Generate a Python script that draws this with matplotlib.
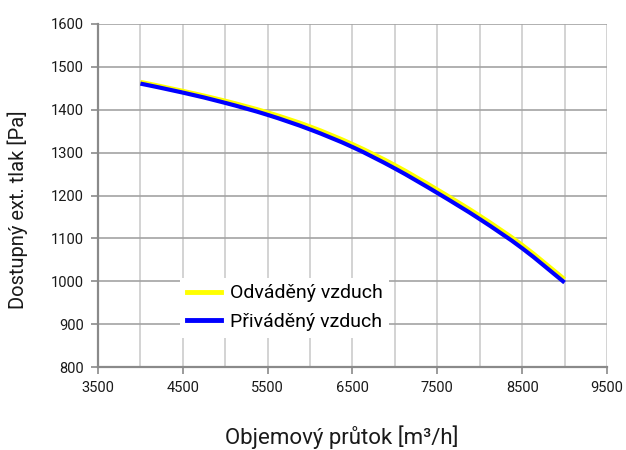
import matplotlib
matplotlib.use("Agg")
import matplotlib.pyplot as plt
from matplotlib.ticker import FixedLocator
from matplotlib.path import Path
from matplotlib.patches import PathPatch
from matplotlib.lines import Line2D

plt.rcParams['font.family'] = ['Roboto', 'DejaVu Sans']

flow = [4000, 4500, 5000, 5500, 6000, 6500, 7000, 7500, 8000, 8500, 9000]
odvadeny = [1465, 1444, 1421, 1394, 1361, 1320, 1271, 1214, 1153, 1085, 1005]
privadeny = [1461, 1440, 1416, 1388, 1354, 1313, 1263, 1206, 1145, 1077, 997]

x_ticks = [3500, 4500, 5500, 6500, 7500, 8500, 9500]
x_minor = [4000, 5000, 6000, 7000, 8000, 9000]
y_ticks = [800, 900, 1000, 1100, 1200, 1300, 1400, 1500, 1600]

series_labels = ['Odváděný vzduch', 'Přiváděný vzduch']
series_colors = ['#ffff00', '#0000ff']


def smooth_path(xs, ys):
    """Catmull-Rom style smooth curve through the points (like a spreadsheet 'smoothed line')."""
    n = len(xs)
    verts = [(xs[0], ys[0])]
    codes = [Path.MOVETO]
    for i in range(n - 1):
        x0, y0 = (xs[i - 1], ys[i - 1]) if i > 0 else (xs[i], ys[i])
        x1, y1 = xs[i], ys[i]
        x2, y2 = xs[i + 1], ys[i + 1]
        x3, y3 = (xs[i + 2], ys[i + 2]) if i + 2 < n else (xs[i + 1], ys[i + 1])
        c1 = (x1 + (x2 - x0) / 6.0, y1 + (y2 - y0) / 6.0)
        c2 = (x2 - (x3 - x1) / 6.0, y2 - (y3 - y1) / 6.0)
        verts += [c1, c2, (x2, y2)]
        codes += [Path.CURVE4] * 3
    return Path(verts, codes)


fig = plt.figure(figsize=(6.26, 4.5), dpi=100)
ax = fig.add_axes([0.1565, 0.1844, 0.8131, 0.7623])

for ys, col, z in [(odvadeny, series_colors[0], 3), (privadeny, series_colors[1], 4)]:
    patch = PathPatch(smooth_path(flow, ys), facecolor='none', edgecolor=col,
                      lw=3.0, capstyle='butt', joinstyle='round', zorder=z)
    ax.add_patch(patch)

ax.set_xlim(3500, 9500)
ax.set_ylim(800, 1600)
ax.xaxis.set_major_locator(FixedLocator(x_ticks))
ax.xaxis.set_minor_locator(FixedLocator(x_minor))
ax.yaxis.set_major_locator(FixedLocator(y_ticks))

ax.grid(True, axis='y', which='major', color='#a3a3a3', lw=1.2, zorder=0)
ax.grid(True, axis='x', which='both', color='#cccccc', lw=1.2, zorder=0)
ax.set_axisbelow(True)

for s in ['top', 'right']:
    ax.spines[s].set_visible(False)
for s in ['left', 'bottom']:
    ax.spines[s].set_color('#8a8a8a')
    ax.spines[s].set_linewidth(1.6)

ax.tick_params(axis='both', which='major', direction='out', length=5, width=1.2,
               color='#8a8a8a', labelsize=10.5, labelcolor='#1a1a1a', pad=5)
ax.tick_params(axis='x', which='minor', length=0)

ax.set_xlabel('Objemový průtok [m³/h]', fontsize=16, color='#1a1a1a',
              va='center', ha='center')
ax.set_ylabel('Dostupný ext. tlak [Pa]', fontsize=14.5, color='#1a1a1a',
              va='center', ha='center')
ax.xaxis.set_label_coords(0.478, -0.204)
ax.yaxis.set_label_coords(-0.157, 0.458)

handles = [Line2D([], [], color=c, lw=3.5) for c in series_colors]
leg = ax.legend(handles, series_labels, loc='lower left', bbox_to_anchor=(0.161, 0.085),
                borderaxespad=0, fontsize=14,
                frameon=True, facecolor='white', edgecolor='none', framealpha=1,
                handlelength=1.75, handletextpad=0.45, labelspacing=0.55, borderpad=0.35,
                fancybox=False)

fig.savefig('out.png', dpi=100)
